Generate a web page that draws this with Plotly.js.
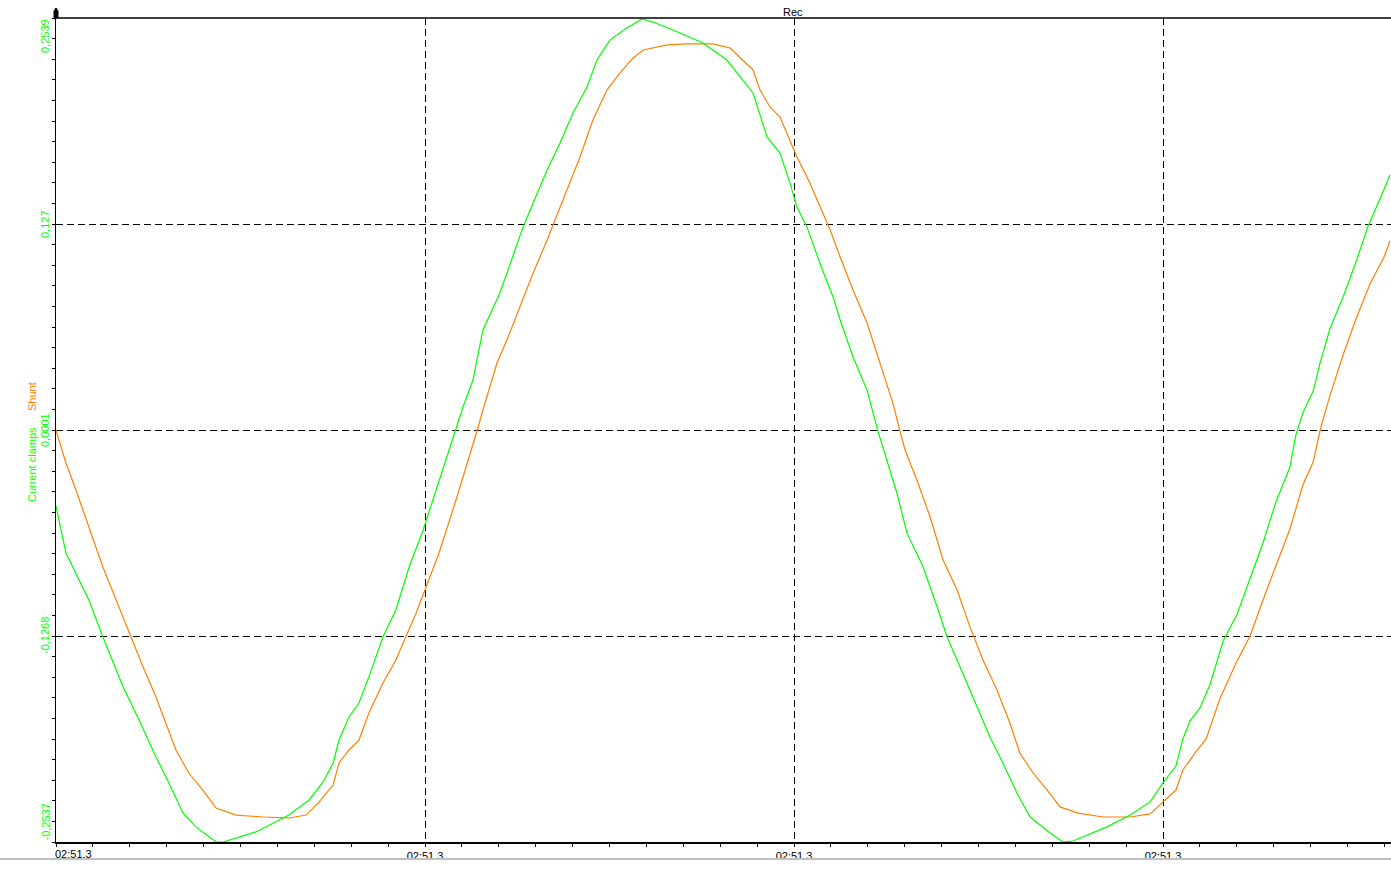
<!DOCTYPE html>
<html>
<head>
<meta charset="utf-8">
<script src="https://cdn.plot.ly/plotly-3.0.1.min.js"></script>
<style>
  html, body { margin: 0; padding: 0; background: #ffffff; }
  #chart { width: 1391px; height: 871px; }
</style>
</head>
<body>
<div id="chart"></div>
<script>
// ---- Data (time in major-division units, values in A) ----
const timeClamps = [0, 0.027, 0.089, 0.127, 0.182, 0.225, 0.271, 0.306, 0.344, 0.379, 0.434, 0.453,
  0.542, 0.631, 0.686, 0.724, 0.751, 0.767, 0.794, 0.821, 0.848, 0.886, 0.921, 0.957, 0.995, 1.030,
  1.076, 1.103, 1.130, 1.157, 1.203, 1.238, 1.266, 1.293, 1.331, 1.366, 1.401, 1.439, 1.466, 1.501,
  1.547, 1.588, 1.618, 1.691, 1.753, 1.818, 1.854, 1.889, 1.927, 1.962, 1.989, 2.008, 2.035, 2.070,
  2.106, 2.125, 2.160, 2.198, 2.228, 2.260, 2.279, 2.306, 2.350, 2.388, 2.415, 2.450, 2.496, 2.531,
  2.566, 2.604, 2.640, 2.694, 2.729, 2.756, 2.848, 2.911, 2.965, 3.000, 3.035, 3.054, 3.073, 3.100,
  3.127, 3.163, 3.201, 3.236, 3.271, 3.306, 3.344, 3.360, 3.379, 3.407, 3.425, 3.453, 3.488, 3.523,
  3.556, 3.588, 3.615];
const currentClamps = [-0.0467, -0.0757, -0.1046, -0.1274, -0.1582, -0.1785, -0.2013, -0.2173, -0.2358, -0.2444, -0.2537, -0.2537,
  -0.2475, -0.2371, -0.2278, -0.2167, -0.2050, -0.1909, -0.1767, -0.1681, -0.1520, -0.1274, -0.1108, -0.0843, -0.0615, -0.0369,
  -0.0042, 0.0143, 0.0309, 0.0617, 0.0845, 0.1067, 0.1252, 0.1399, 0.1603, 0.1769, 0.1954, 0.2114, 0.2280, 0.2403,
  0.2477, 0.2533, 0.2514, 0.2447, 0.2385, 0.2280, 0.2176, 0.2077, 0.1806, 0.1707, 0.1523, 0.1375, 0.1252, 0.1030,
  0.0820, 0.0679, 0.0451, 0.0247, -0.0011, -0.0245, -0.0387, -0.0633, -0.0843, -0.1089, -0.1274, -0.1459, -0.1705, -0.1890,
  -0.2050, -0.2235, -0.2383, -0.2481, -0.2537, -0.2531, -0.2444, -0.2371, -0.2290, -0.2173, -0.2069, -0.1902, -0.1791, -0.1711,
  -0.1570, -0.1299, -0.1132, -0.0911, -0.0695, -0.0442, -0.0227, -0.0030, 0.0106, 0.0241, 0.0408, 0.0629, 0.0820, 0.1036,
  0.1258, 0.1424, 0.1572];

const timeShunt = [0, 0.027, 0.054, 0.089, 0.127, 0.163, 0.198, 0.236, 0.271, 0.298, 0.325, 0.360, 0.398,
  0.434, 0.488, 0.561, 0.631, 0.678, 0.713, 0.751, 0.767, 0.794, 0.821, 0.848, 0.886, 0.921, 0.949, 0.976,
  1.003, 1.038, 1.084, 1.111, 1.141, 1.157, 1.195, 1.222, 1.257, 1.293, 1.331, 1.347, 1.385, 1.420, 1.455,
  1.493, 1.528, 1.564, 1.591, 1.656, 1.710, 1.780, 1.827, 1.862, 1.889, 1.908, 1.935, 1.962, 1.981, 2.008,
  2.043, 2.070, 2.098, 2.125, 2.160, 2.198, 2.233, 2.268, 2.287, 2.301, 2.333, 2.369, 2.404, 2.442, 2.477,
  2.512, 2.550, 2.585, 2.612, 2.648, 2.686, 2.721, 2.767, 2.837, 2.911, 2.965, 3.000, 3.035, 3.054, 3.089,
  3.117, 3.154, 3.198, 3.236, 3.271, 3.306, 3.344, 3.379, 3.407, 3.428, 3.453, 3.488, 3.523, 3.561, 3.599, 3.615];
const shunt = [0.0000, -0.0202, -0.0369, -0.0596, -0.0843, -0.1046, -0.1249, -0.1459, -0.1644, -0.1804, -0.1970, -0.2112, -0.2217,
  -0.2328, -0.2371, -0.2383, -0.2389, -0.2371, -0.2290, -0.2186, -0.2050, -0.1970, -0.1909, -0.1742, -0.1557, -0.1416, -0.1274, -0.1126,
  -0.0966, -0.0757, -0.0430, -0.0233, -0.0005, 0.0124, 0.0414, 0.0555, 0.0759, 0.0968, 0.1171, 0.1264, 0.1479, 0.1683, 0.1911,
  0.2095, 0.2200, 0.2293, 0.2342, 0.2373, 0.2379, 0.2379, 0.2354, 0.2280, 0.2219, 0.2095, 0.1991, 0.1929, 0.1831, 0.1683,
  0.1523, 0.1375, 0.1233, 0.1067, 0.0863, 0.0660, 0.0414, 0.0167, -0.0005, -0.0122, -0.0307, -0.0535, -0.0800, -0.0985, -0.1212,
  -0.1416, -0.1601, -0.1804, -0.1989, -0.2112, -0.2217, -0.2321, -0.2358, -0.2383, -0.2383, -0.2364, -0.2290, -0.2217, -0.2093, -0.1982,
  -0.1902, -0.1656, -0.1434, -0.1268, -0.1046, -0.0831, -0.0609, -0.0338, -0.0196, 0.0020, 0.0217, 0.0463, 0.0685, 0.0900, 0.1067, 0.1165];

const xTickVals = [0, 1, 2, 3];
const xTickLabels = ['02:51.3', '02:51.3', '02:51.3', '02:51.3'];
const yTickVals = [0.2539, 0.127, 0.0001, -0.1268, -0.2537];
const yTickLabels = ['0,2539', '0,127', '0,0001', '-0,1268', '-0,2537'];
const seriesNames = ['Shunt', 'Current clamps'];

// ---- Styling ----
const GREEN = '#00ff00';
const ORANGE = '#ff8000';
const FONT = 'Liberation Sans, Arial, sans-serif';
const xMax = 1335 / 369;

const traces = [
  { x: timeShunt, y: shunt, type: 'scatter', mode: 'lines', name: seriesNames[0],
    line: { color: ORANGE, width: 1.2 } },
  { x: timeClamps, y: currentClamps, type: 'scatter', mode: 'lines', name: seriesNames[1],
    line: { color: GREEN, width: 1.2 } }
];

const annotations = [];
yTickVals.forEach((v, i) => {
  annotations.push({
    xref: 'paper', x: 0, xanchor: 'right', xshift: -4,
    yref: 'y', y: v,
    yanchor: i === 0 ? 'top' : (i === yTickVals.length - 1 ? 'bottom' : 'middle'),
    text: yTickLabels[i], textangle: -90, showarrow: false,
    font: { family: FONT, size: 11, color: GREEN }, borderpad: 0
  });
});
annotations.push({
  xref: 'x', x: xTickVals[0], xanchor: 'left', xshift: -2,
  yref: 'paper', y: 0, yanchor: 'top', yshift: -5,
  text: xTickLabels[0], showarrow: false,
  font: { family: FONT, size: 11, color: '#000000' }, borderpad: 0
});
annotations.push({
  xref: 'paper', x: 0, xanchor: 'center', xshift: -24,
  yref: 'paper', y: 0.4575, yanchor: 'middle',
  text: seriesNames[1], textangle: -90, showarrow: false,
  font: { family: FONT, size: 11, color: GREEN }, borderpad: 0
});
annotations.push({
  xref: 'paper', x: 0, xanchor: 'center', xshift: -24,
  yref: 'paper', y: 0.540, yanchor: 'middle',
  text: seriesNames[0], textangle: -90, showarrow: false,
  font: { family: FONT, size: 11, color: ORANGE }, borderpad: 0
});
annotations.push({
  xref: 'paper', x: (793 - 56) / 1335, xanchor: 'center',
  yref: 'paper', y: 1, yanchor: 'bottom', yshift: -1,
  text: 'Rec', showarrow: false,
  font: { family: FONT, size: 11, color: '#000000' }, borderpad: 0
});

const layout = {
  width: 1391, height: 871,
  margin: { l: 56, r: 0, t: 18, b: 29, pad: 0 },
  paper_bgcolor: '#ffffff', plot_bgcolor: '#ffffff',
  showlegend: false, hovermode: false,
  font: { family: FONT, size: 11, color: '#000000' },
  xaxis: {
    range: [0, xMax], tickmode: 'array', tickvals: xTickVals,
    ticktext: ['', xTickLabels[1], xTickLabels[2], xTickLabels[3]],
    ticks: 'outside', ticklen: 3, tickcolor: '#000000', tickwidth: 1,
    tickfont: { family: FONT, size: 11, color: '#000000' },
    showline: true, linecolor: '#000000', linewidth: 2,
    showgrid: true, gridcolor: '#000000', gridwidth: 1, griddash: '7px,4px',
    zeroline: false,
    minor: { tickmode: 'linear', tick0: 0, dtick: 0.1, ticks: 'outside', ticklen: 3,
             tickcolor: '#000000', tickwidth: 1, showgrid: false }
  },
  yaxis: {
    range: [-0.2537, 0.2539], tickmode: 'array', tickvals: yTickVals,
    showticklabels: false,
    ticks: 'outside', ticklen: 3, tickcolor: '#000000', tickwidth: 1,
    showline: true, linecolor: '#000000', linewidth: 1,
    showgrid: true, gridcolor: '#000000', gridwidth: 1, griddash: '7px,4px',
    zeroline: false,
    minor: { tickmode: 'linear', tick0: 0.0001, dtick: 0.01269, ticks: 'outside', ticklen: 3,
             tickcolor: '#000000', tickwidth: 1, showgrid: false }
  },
  shapes: [
    { type: 'line', xref: 'paper', yref: 'paper', x0: 0, x1: 1, y0: 1, y1: 1,
      line: { color: '#000000', width: 1.5 } },
    { type: 'line', xref: 'paper', yref: 'paper', x0: -56 / 1335, x1: 1,
      y0: -17 / 824, y1: -17 / 824, line: { color: '#c0c0c0', width: 2 } },
    { type: 'path', xref: 'paper', yref: 'paper', xsizemode: 'pixel', ysizemode: 'pixel',
      xanchor: 0, yanchor: 1, path: 'M-2,0 L2,0 L2,7 L0,10 L-2,7 Z',
      fillcolor: '#000000', line: { color: '#000000', width: 1 } }
  ],
  annotations: annotations
};

Plotly.newPlot('chart', traces, layout, { displayModeBar: false, staticPlot: true });
</script>
</body>
</html>
